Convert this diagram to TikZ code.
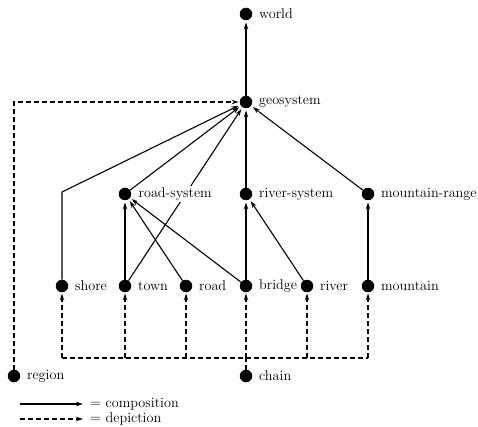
\documentclass[tikz,border=0pt]{standalone}
\usetikzlibrary{arrows.meta}
\begin{document}
\begin{tikzpicture}[x=1pt,y=-1pt,
  font=\fontsize{14.2}{17}\selectfont,
  pt/.style={circle, fill=black, inner sep=0pt, minimum size=12.5pt},
  lbl/.style={inner sep=1.5pt, label distance=5pt},
  tip/.style={-{Stealth[length=7pt,width=4.5pt]}},
  comp/.style={line width=1.1pt, tip, shorten >=2pt},
  dep/.style={line width=1.1pt, dash pattern=on 5pt off 3pt},
  deparrow/.style={dep, tip, shorten >=1pt}]
\useasboundingbox (0,0) rectangle (478,427);

% hierarchy nodes
\node[pt, label={[lbl]right:world}]      (world)     at (246,14) {};
\node[pt, label={[lbl]right:geosystem}]  (geosystem) at (246,102) {};
\node[pt] (roadsys)  at (125,194) {};
\node[pt, label={[lbl]right:river-system}]   (riversys) at (246,194) {};
\node[pt, label={[lbl]right:mountain-range}] (mrange)   at (368,194) {};
\node[pt, label={[lbl]right:shore}]    (shore)    at (62,286) {};
\node[pt, label={[lbl]right:town}]     (town)     at (125,286) {};
\node[pt, label={[lbl]right:road}]     (road)     at (186,286) {};
\node[pt, label={[lbl]right:bridge}]   (bridge)   at (246,286) {};
\node[pt, label={[lbl]right:river}]    (river)    at (307,286) {};
\node[pt, label={[lbl]right:mountain}] (mountain) at (368,286) {};
\node[pt, label={[lbl]right:region}]   (region)   at (14,376) {};
\node[pt, label={[lbl]right:chain}]    (chain)    at (246,376) {};

% helper points
\coordinate (shorebend) at (62,192);
\coordinate (busL) at (62,358);
\coordinate (busR) at (368,358);

% composition links
\draw[comp] (geosystem) -- (world);
\draw[comp] (shore) -- (shorebend) -- (geosystem);
\draw[comp] (roadsys) -- (geosystem);
\draw[comp] (town) -- (geosystem);
\draw[comp] (riversys) -- (geosystem);
\draw[comp] (mrange) -- (geosystem);
\draw[comp] (town) -- (roadsys);
\draw[comp] (road) -- (roadsys);
\draw[comp] (bridge) -- (roadsys);
\draw[comp] (bridge) -- (riversys);
\draw[comp] (river) -- (riversys);
\draw[comp] (mountain) -- (mrange);

% label of road-system drawn over the crossing line
\node[anchor=west, fill=white, inner sep=2pt] at ([xshift=5pt]roadsys.east) {road-system};

% depiction links
\draw[deparrow] (region) |- (geosystem);
\draw[dep] (busL) -- (busR);
\draw[dep] (chain) -- (chain |- busL);
\foreach \n in {shore,town,road,bridge,river,mountain}
  \draw[deparrow] (\n |- busL) -- (\n);

% key
\coordinate (k1a) at (20,404);
\coordinate (k1b) at (83,404);
\coordinate (k2a) at (20,419);
\coordinate (k2b) at (83,419);
\draw[line width=1.1pt, tip] (k1a) -- (k1b);
\draw[dep, tip] (k2a) -- (k2b);
\node[anchor=west, inner sep=0pt] (kc) at (90,404) {= composition};
\node[anchor=west, inner sep=0pt] (kd) at (90,419) {= depiction};
\end{tikzpicture}
\end{document}
